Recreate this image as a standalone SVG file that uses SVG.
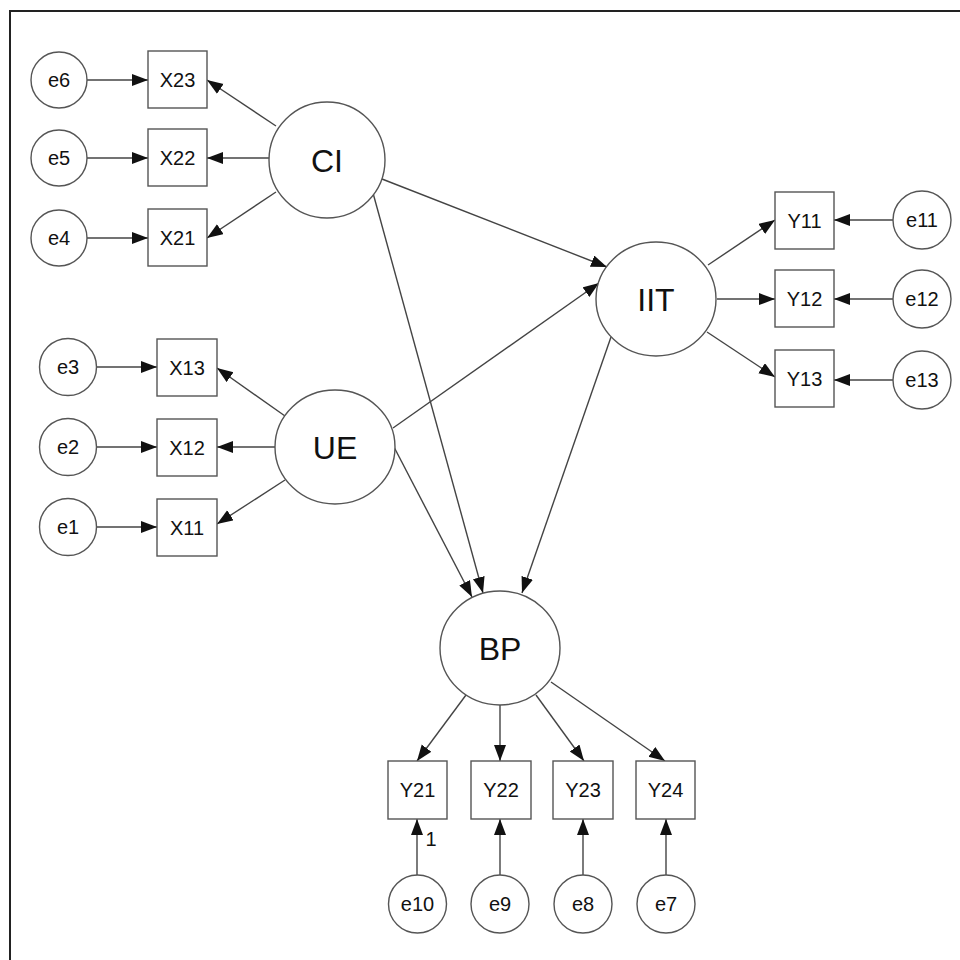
<svg xmlns="http://www.w3.org/2000/svg" width="960" height="960" viewBox="0 0 960 960">
<defs>
<style>
.n{fill:#fff;stroke:#555;stroke-width:1.4}
.t{font-family:"Liberation Sans",Arial,sans-serif;font-size:20px;fill:#111;text-anchor:middle}
.T{font-family:"Liberation Sans",Arial,sans-serif;font-size:32px;fill:#111;text-anchor:middle}
.c line{stroke:#444;stroke-width:1.4;marker-end:url(#ah)}
</style>
<marker id="ah" markerUnits="userSpaceOnUse" markerWidth="17" markerHeight="13" refX="16" refY="6" orient="auto">
<path d="M0,0 L16,6 L0,12 z" fill="#111"/>
</marker>
</defs>
<rect width="960" height="960" fill="#fff"/>
<path d="M10,960 L10,11 L960,11" fill="none" stroke="#222" stroke-width="2"/>
<g class="c">
<line x1="87" y1="80" x2="148" y2="80"/>
<line x1="87" y1="158" x2="148" y2="158"/>
<line x1="87" y1="238" x2="148" y2="238"/>
<line x1="276" y1="126" x2="207" y2="80"/>
<line x1="269" y1="158" x2="207" y2="158"/>
<line x1="276" y1="192" x2="207" y2="238"/>
<line x1="97" y1="367" x2="157" y2="367"/>
<line x1="97" y1="447" x2="157" y2="447"/>
<line x1="97" y1="527" x2="157" y2="527"/>
<line x1="285" y1="416" x2="217" y2="368"/>
<line x1="275" y1="447" x2="217" y2="447"/>
<line x1="285" y1="480" x2="217" y2="524"/>
<line x1="382" y1="179" x2="607" y2="267"/>
<line x1="393" y1="428" x2="599" y2="283"/>
<line x1="373" y1="193" x2="483" y2="593"/>
<line x1="394" y1="447" x2="472" y2="597"/>
<line x1="611" y1="337" x2="522" y2="593"/>
<line x1="708" y1="265" x2="775" y2="220"/>
<line x1="717" y1="299" x2="775" y2="299"/>
<line x1="707" y1="332" x2="775" y2="377"/>
<line x1="893" y1="220" x2="834" y2="220"/>
<line x1="893" y1="299" x2="834" y2="299"/>
<line x1="893" y1="380" x2="834" y2="380"/>
<line x1="466" y1="695" x2="417" y2="761"/>
<line x1="500" y1="705" x2="500" y2="761"/>
<line x1="536" y1="695" x2="584" y2="761"/>
<line x1="551" y1="682" x2="665" y2="761"/>
<line x1="417" y1="875" x2="417" y2="819"/>
<line x1="500" y1="875" x2="500" y2="819"/>
<line x1="583" y1="875" x2="583" y2="819"/>
<line x1="666" y1="875" x2="666" y2="819"/>
</g>
<g id="e6"><circle class="n" cx="59" cy="80" r="28"/><text class="t" x="59" y="87">e6</text></g>
<g id="e5"><circle class="n" cx="59" cy="158" r="28"/><text class="t" x="59" y="165">e5</text></g>
<g id="e4"><circle class="n" cx="59" cy="238" r="28"/><text class="t" x="59" y="245">e4</text></g>
<g id="X23"><rect class="n" x="148" y="51" width="59" height="57"/><text class="t" x="177.5" y="87">X23</text></g>
<g id="X22"><rect class="n" x="148" y="129" width="59" height="57"/><text class="t" x="177.5" y="165">X22</text></g>
<g id="X21"><rect class="n" x="148" y="209" width="59" height="57"/><text class="t" x="177.5" y="245">X21</text></g>
<g id="CI"><ellipse class="n" cx="327" cy="160" rx="58" ry="58"/><text class="T" x="327" y="172">CI</text></g>
<g id="e3"><circle class="n" cx="68" cy="367" r="28.5"/><text class="t" x="68" y="374">e3</text></g>
<g id="e2"><circle class="n" cx="68" cy="447" r="28.5"/><text class="t" x="68" y="454">e2</text></g>
<g id="e1"><circle class="n" cx="68" cy="527" r="28.5"/><text class="t" x="68" y="534">e1</text></g>
<g id="X13"><rect class="n" x="157" y="339" width="60" height="57"/><text class="t" x="187" y="375">X13</text></g>
<g id="X12"><rect class="n" x="157" y="419" width="60" height="57"/><text class="t" x="187" y="455">X12</text></g>
<g id="X11"><rect class="n" x="157" y="499" width="60" height="57"/><text class="t" x="187" y="535">X11</text></g>
<g id="UE"><ellipse class="n" cx="335" cy="447" rx="60" ry="57"/><text class="T" x="335" y="459">UE</text></g>
<g id="IIT"><ellipse class="n" cx="656" cy="299" rx="60" ry="57"/><text class="T" x="656" y="311">IIT</text></g>
<g id="Y11"><rect class="n" x="775" y="192" width="59" height="57"/><text class="t" x="804.5" y="228">Y11</text></g>
<g id="Y12"><rect class="n" x="775" y="270" width="59" height="57"/><text class="t" x="804.5" y="306">Y12</text></g>
<g id="Y13"><rect class="n" x="775" y="350" width="59" height="57"/><text class="t" x="804.5" y="386">Y13</text></g>
<g id="e11"><circle class="n" cx="922" cy="220" r="29"/><text class="t" x="922" y="227">e11</text></g>
<g id="e12"><circle class="n" cx="922" cy="299" r="29"/><text class="t" x="922" y="306">e12</text></g>
<g id="e13"><circle class="n" cx="922" cy="380" r="29"/><text class="t" x="922" y="387">e13</text></g>
<g id="BP"><ellipse class="n" cx="500" cy="648" rx="60" ry="57"/><text class="T" x="500" y="660">BP</text></g>
<g id="Y21"><rect class="n" x="388" y="761" width="59" height="58"/><text class="t" x="417.5" y="797">Y21</text></g>
<g id="Y22"><rect class="n" x="471" y="761" width="60" height="58"/><text class="t" x="501" y="797">Y22</text></g>
<g id="Y23"><rect class="n" x="553" y="761" width="60" height="58"/><text class="t" x="583" y="797">Y23</text></g>
<g id="Y24"><rect class="n" x="636" y="761" width="59" height="58"/><text class="t" x="665.5" y="797">Y24</text></g>
<g id="e10"><circle class="n" cx="417.5" cy="904" r="29"/><text class="t" x="417.5" y="911">e10</text></g>
<g id="e9"><circle class="n" cx="500" cy="904" r="29"/><text class="t" x="500" y="911">e9</text></g>
<g id="e8"><circle class="n" cx="583" cy="904" r="29"/><text class="t" x="583" y="911">e8</text></g>
<g id="e7"><circle class="n" cx="666" cy="904" r="29"/><text class="t" x="666" y="911">e7</text></g>
<text class="t" x="431" y="846">1</text>
</svg>
